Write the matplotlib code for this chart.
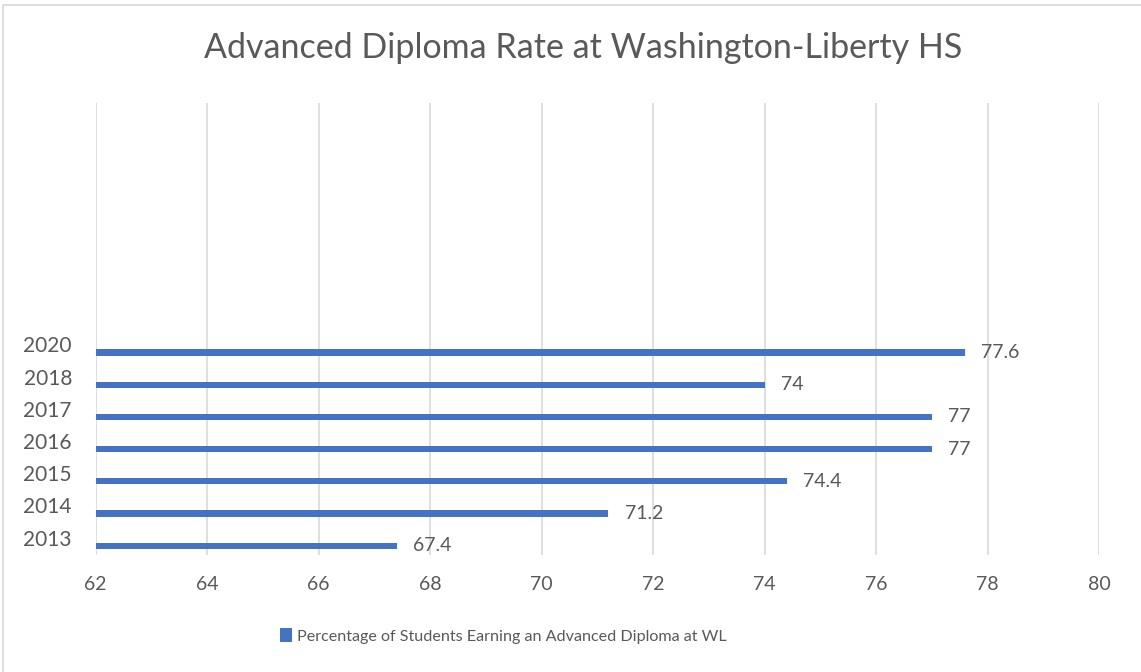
import matplotlib.pyplot as plt
from matplotlib.patches import Rectangle

years = ["2013", "2014", "2015", "2016", "2017", "2018", "2020"]
rates = [67.4, 71.2, 74.4, 77, 77, 74, 77.6]
x_ticks = [62, 64, 66, 68, 70, 72, 74, 76, 78, 80]
series_name = "Percentage of Students Earning an Advanced Diploma at WL"
title = "Advanced Diploma Rate at Washington-Liberty HS"

plt.rcParams["font.family"] = ["Lato", "DejaVu Sans"]
grey = "#595959"
blue = "#4472C4"

fig = plt.figure(figsize=(11.41, 6.72), dpi=100)
fig.patches.append(Rectangle((3 / 1141, -0.01), 1.0, 1 - 5 / 672 + 0.01,
                             transform=fig.transFigure, fill=False,
                             edgecolor="#d9d9d9", linewidth=1.2))

ax = fig.add_axes([95.5 / 1141, 1 - 555 / 672, (1099 - 95.5) / 1141, (555 - 103) / 672])

pos = list(range(len(years)))
bars = ax.barh(pos, [r - 62 for r in rates], left=62, height=0.19,
               color=blue, label=series_name)

for p, r in zip(pos, rates):
    ax.text(r + 0.29, p, f"{r:g}", va="center", ha="left",
            fontsize=14, color=grey)

ax.set_xlim(62, 80)
ax.set_ylim(-0.29, 13.75)
ax.set_xticks(x_ticks)
ax.set_xticklabels([str(t) for t in x_ticks], fontsize=14, color=grey)
ax.set_yticks([p + 0.25 for p in pos])
ax.set_yticklabels(years, fontsize=15, color=grey)
ax.tick_params(axis="both", length=0)
ax.tick_params(axis="x", pad=15)
ax.tick_params(axis="y", pad=17)
ax.grid(axis="x", color="#d9d9d9", linewidth=1.2)
ax.set_axisbelow(True)
for s in ax.spines.values():
    s.set_visible(False)

fig.text(583 / 1141, 1 - 48 / 672, title, ha="center", va="center",
         fontsize=24.5, color=grey)

fig.legend(handles=[bars], labels=[series_name], loc="center",
           bbox_to_anchor=(503 / 1141, 1 - 636 / 672), frameon=False,
           fontsize=11.6, labelcolor=grey, handlelength=0.75, handleheight=0.9,
           handletextpad=0.3)

fig.savefig("out.png", dpi=100)
